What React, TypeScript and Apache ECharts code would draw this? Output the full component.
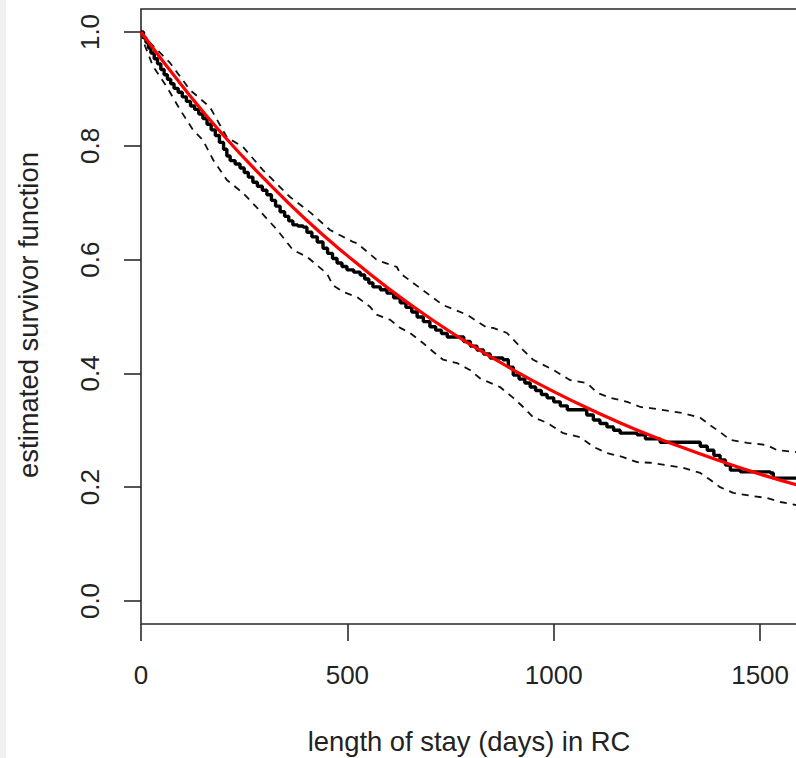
import React, { useEffect, useRef } from "react";
import * as echarts from "echarts";

// Kaplan-Meier estimate (days, survival)
const kmTimes = [0, 6, 12, 18, 24, 32, 40, 48, 56, 64, 72, 80, 90, 100, 110, 120, 130, 140, 150, 160, 170, 180, 190, 200, 208, 216, 228, 240, 250, 260, 271, 282, 294, 305, 316, 326, 337, 348, 358, 368, 380, 393, 402, 414, 427, 441, 452, 464, 475, 487, 499, 515, 531, 542, 552, 562, 580, 596, 612, 628, 642, 656, 669, 684, 700, 714, 728, 742, 766, 782, 798, 814, 830, 846, 877, 890, 902, 916, 930, 943, 956, 970, 984, 1000, 1016, 1033, 1064, 1080, 1096, 1112, 1129, 1145, 1161, 1202, 1222, 1258, 1338, 1355, 1372, 1388, 1403, 1416, 1428, 1452, 1525, 1532, 1600];
const kmSurv = [1.0, 0.99, 0.982, 0.972, 0.963, 0.953, 0.944, 0.934, 0.925, 0.917, 0.909, 0.901, 0.894, 0.886, 0.878, 0.87, 0.864, 0.856, 0.848, 0.838, 0.828, 0.818, 0.806, 0.794, 0.782, 0.774, 0.768, 0.761, 0.753, 0.745, 0.736, 0.729, 0.722, 0.714, 0.704, 0.694, 0.684, 0.676, 0.668, 0.661, 0.659, 0.657, 0.648, 0.64, 0.631, 0.62, 0.611, 0.602, 0.594, 0.588, 0.582, 0.578, 0.573, 0.566, 0.559, 0.552, 0.547, 0.541, 0.533, 0.524, 0.516, 0.508, 0.499, 0.491, 0.482, 0.476, 0.47, 0.464, 0.464, 0.456, 0.448, 0.441, 0.434, 0.427, 0.424, 0.411, 0.397, 0.39, 0.383, 0.376, 0.37, 0.363, 0.357, 0.35, 0.343, 0.336, 0.336, 0.327, 0.318, 0.312, 0.306, 0.3, 0.295, 0.292, 0.285, 0.279, 0.279, 0.272, 0.265, 0.256, 0.248, 0.239, 0.23, 0.227, 0.225, 0.216, 0.213];

// Upper confidence limit
const upperTimes = [0, 22, 70, 119, 167, 208, 247, 296, 361, 410, 458, 514, 523, 572, 620, 628, 676, 732, 790, 839, 853, 887, 926, 950, 999, 1040, 1081, 1105, 1137, 1178, 1210, 1234, 1314, 1355, 1379, 1403, 1428, 1469, 1517, 1541, 1600];
const upperSurv = [1.0, 0.981, 0.946, 0.898, 0.868, 0.815, 0.798, 0.757, 0.71, 0.683, 0.652, 0.631, 0.629, 0.599, 0.587, 0.576, 0.55, 0.52, 0.503, 0.48, 0.48, 0.471, 0.441, 0.424, 0.406, 0.388, 0.383, 0.366, 0.357, 0.35, 0.341, 0.339, 0.33, 0.322, 0.309, 0.297, 0.283, 0.278, 0.274, 0.265, 0.261];

// Lower confidence limit
const lowerTimes = [0, 10, 29, 63, 95, 126, 150, 175, 208, 247, 271, 330, 368, 402, 451, 465, 490, 524, 555, 572, 604, 628, 652, 684, 708, 732, 766, 797, 822, 870, 902, 926, 950, 984, 1023, 1064, 1096, 1129, 1168, 1202, 1234, 1314, 1355, 1379, 1403, 1435, 1476, 1517, 1549, 1600];
const lowerSurv = [1.0, 0.975, 0.94, 0.903, 0.863, 0.828, 0.81, 0.775, 0.74, 0.717, 0.699, 0.652, 0.617, 0.605, 0.575, 0.555, 0.543, 0.534, 0.517, 0.503, 0.494, 0.48, 0.471, 0.453, 0.438, 0.424, 0.418, 0.406, 0.391, 0.376, 0.357, 0.341, 0.323, 0.313, 0.295, 0.288, 0.271, 0.26, 0.253, 0.244, 0.243, 0.234, 0.225, 0.213, 0.2, 0.19, 0.185, 0.181, 0.174, 0.167];

// Fitted parametric curve (red)
const fitTimes = [0, 100, 200, 300, 400, 500, 600, 700, 800, 900, 1000, 1100, 1200, 1300, 1400, 1500, 1600];
const fitSurv = [1.0, 0.905, 0.818, 0.741, 0.67, 0.607, 0.549, 0.497, 0.45, 0.407, 0.368, 0.333, 0.301, 0.273, 0.247, 0.223, 0.202];

const xTicks = [0, 500, 1000, 1500];
const yTicks = [0, 0.2, 0.4, 0.6, 0.8, 1.0];

const xTitle = "length of stay (days) in RC";
const yTitle = "estimated survivor function";

const FONT = "'Liberation Sans', Arial, Helvetica, sans-serif";

const pairs = (xs: number[], ys: number[]) => xs.map((x, i) => [x, ys[i]]);

export default function App() {
  const ref = useRef<HTMLDivElement>(null);

  useEffect(() => {
    if (!ref.current) return;
    const chart = echarts.init(ref.current, undefined, { renderer: "svg" });
    const axisColor = "#2a2a2a";
    const X_MAX = 1650;
    chart.setOption({
      animation: false,
      backgroundColor: "#ffffff",
      grid: [
        { left: 141, top: 32, width: 681, height: 569, show: false },
        {
          left: 141,
          top: 9,
          width: 681,
          height: 615,
          show: true,
          borderColor: axisColor,
          borderWidth: 1.6,
          backgroundColor: "transparent",
        },
      ],
      xAxis: [
        { gridIndex: 0, type: "value", min: 0, max: X_MAX, show: false },
        {
          gridIndex: 1,
          type: "value",
          min: 0,
          max: X_MAX,
          interval: 500,
          position: "bottom",
          axisLine: { show: false },
          axisTick: { show: true, length: 17, lineStyle: { color: axisColor, width: 1.6 } },
          axisLabel: {
            show: true,
            margin: 38,
            fontSize: 26,
            fontFamily: FONT,
            color: "#222",
            showMaxLabel: false,
            formatter: (v: number) => (xTicks.includes(v) ? String(v) : ""),
          },
          splitLine: { show: false },
        },
      ],
      yAxis: [
        {
          gridIndex: 0,
          type: "value",
          min: 0,
          max: 1,
          interval: 0.2,
          position: "left",
          axisLine: { show: false },
          axisTick: { show: true, length: 17, lineStyle: { color: axisColor, width: 1.6 } },
          axisLabel: {
            show: true,
            rotate: 90,
            margin: 38,
            fontSize: 26,
            fontFamily: FONT,
            color: "#222",
            formatter: (v: number) => {
              const t = yTicks.find((y) => Math.abs(y - v) < 1e-6);
              return t === undefined ? "" : t.toFixed(1);
            },
          },
          splitLine: { show: false },
        },
        { gridIndex: 1, type: "value", min: 0, max: 1, show: false },
      ],
      graphic: [
        {
          type: "rect",
          shape: { x: 0, y: 0, width: 6, height: 758 },
          style: { fill: "#f0f1f3" },
          silent: true,
        },
        {
          type: "text",
          x: 469,
          y: 741,
          style: {
            text: xTitle,
            font: `27.4px ${FONT}`,
            fill: "#222",
            textAlign: "center",
            textVerticalAlign: "middle",
          },
        },
        {
          type: "text",
          x: 28,
          y: 315,
          rotation: Math.PI / 2,
          style: {
            text: yTitle,
            font: `27.4px ${FONT}`,
            fill: "#222",
            textAlign: "center",
            textVerticalAlign: "middle",
          },
        },
      ],
      series: [
        {
          name: "upper",
          type: "line",
          xAxisIndex: 0,
          yAxisIndex: 0,
          data: pairs(upperTimes, upperSurv),
          showSymbol: false,
          clip: false,
          lineStyle: { color: "#111", width: 1.8, type: [7, 6] },
        },
        {
          name: "lower",
          type: "line",
          xAxisIndex: 0,
          yAxisIndex: 0,
          data: pairs(lowerTimes, lowerSurv),
          showSymbol: false,
          clip: false,
          lineStyle: { color: "#111", width: 1.8, type: [7, 6] },
        },
        {
          name: "KM",
          type: "line",
          xAxisIndex: 0,
          yAxisIndex: 0,
          data: pairs(kmTimes, kmSurv),
          step: "end",
          showSymbol: false,
          clip: false,
          lineStyle: { color: "#000", width: 3.4 },
        },
        {
          name: "fit",
          type: "line",
          xAxisIndex: 0,
          yAxisIndex: 0,
          data: pairs(fitTimes, fitSurv),
          smooth: true,
          showSymbol: false,
          clip: false,
          lineStyle: { color: "#ff0000", width: 3.2 },
        },
      ],
    });
    return () => chart.dispose();
  }, []);

  return (
    <div
      style={{
        position: "fixed",
        left: 0,
        top: 0,
        width: 796,
        height: 758,
        overflow: "hidden",
        background: "#fff",
      }}
    >
      <div ref={ref} style={{ width: 880, height: 758 }} />
    </div>
  );
}
